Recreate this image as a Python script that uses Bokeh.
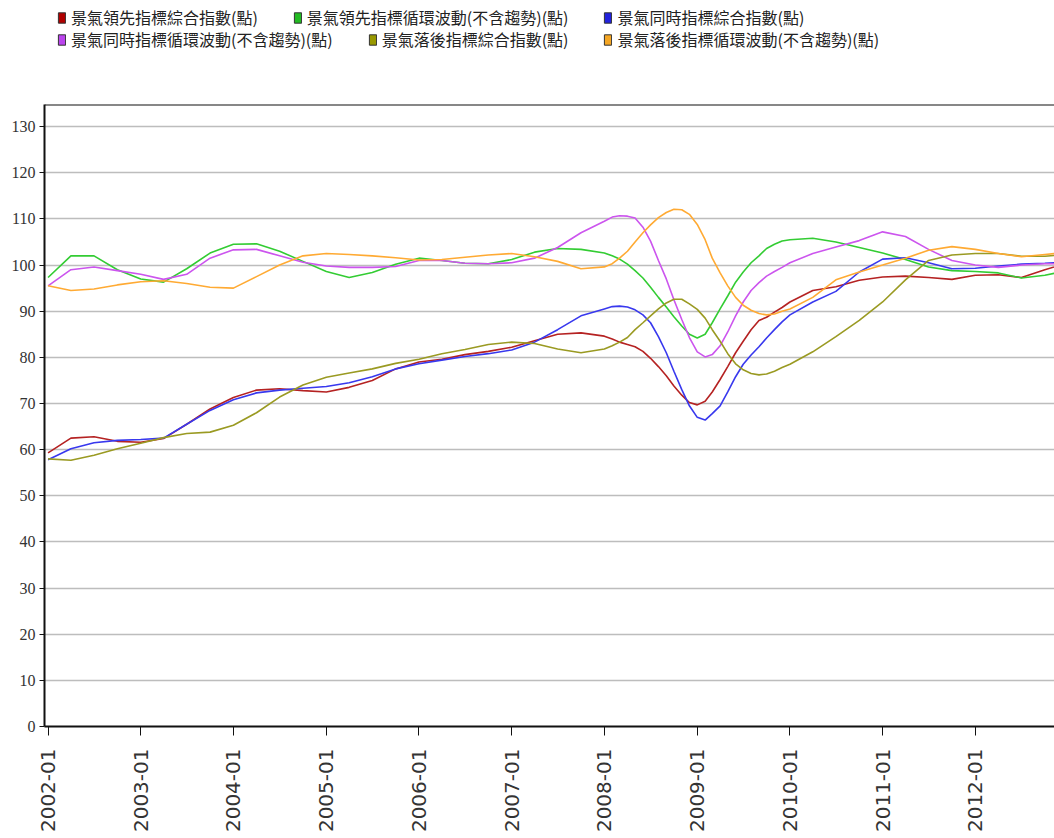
import math
import pandas as pd
from bokeh.plotting import figure
from bokeh.layouts import column
from bokeh.models import (Range1d, FixedTicker, DatetimeTickFormatter, Legend, LegendItem,
                          SingleIntervalTicker, Span)
from bokeh.embed import file_html
from bokeh.resources import INLINE

# x positions: quarterly 2002-2007, monthly 2008-2009, quarterly 2010-2012
dates = ([f"{y}-{m:02d}-01" for y in range(2002, 2008) for m in (1, 4, 7, 10)]
         + [f"{y}-{m:02d}-01" for y in (2008, 2009) for m in range(1, 13)]
         + [f"{y}-{m:02d}-01" for y in range(2010, 2013) for m in (1, 4, 7, 10)]
         + ["2012-12-01"])

lead_ci = [59.3, 62.5, 62.8, 61.8, 61.6, 62.4, 65.5, 68.8, 71.3, 72.9, 73.2, 72.8,
           72.5, 73.5, 75.0, 77.5, 79.0, 79.6, 80.6, 81.3, 82.2, 83.6, 85.0, 85.3,
           84.6, 84.0, 83.3, 82.8, 82.3, 81.3, 79.8, 78.0, 76.0, 73.8, 71.8, 70.2,
           69.7, 70.5, 72.5, 75.2, 78.0, 81.0, 83.5, 86.0, 88.0, 88.7, 89.8, 90.8,
           92.0, 94.5, 95.3, 96.7, 97.4, 97.6, 97.3, 96.9, 97.8, 97.9, 97.3, 99.0, 100.0]
lead_cyc = [97.3, 102.0, 102.0, 99.0, 97.0, 96.3, 99.2, 102.6, 104.5, 104.6, 103.0, 100.8,
            98.6, 97.3, 98.4, 100.2, 101.5, 101.0, 100.4, 100.3, 101.2, 102.8, 103.6, 103.4,
            102.6, 102.0, 101.3, 100.2, 98.8, 97.2, 95.2, 93.0, 90.9, 88.8, 86.8, 85.0,
            84.2, 85.0, 87.5, 90.5, 93.3, 96.3, 98.5, 100.5, 102.0, 103.6, 104.5, 105.2,
            105.5, 105.8, 105.0, 103.8, 102.6, 101.2, 99.6, 98.8, 98.6, 98.3, 97.2, 97.8, 98.5]
coin_ci = [57.8, 60.2, 61.5, 62.0, 62.2, 62.5, 65.5, 68.5, 70.8, 72.3, 72.9, 73.3,
           73.7, 74.5, 75.8, 77.5, 78.6, 79.4, 80.2, 80.8, 81.6, 83.3, 86.0, 89.0,
           90.5, 91.0, 91.1, 90.9, 90.3, 89.2, 87.5, 84.5, 81.0, 77.0, 73.0, 69.5,
           67.0, 66.4, 67.8, 69.5, 72.5, 75.8, 78.5, 80.5, 82.3, 84.2, 86.0, 87.7,
           89.2, 92.0, 94.3, 98.5, 101.3, 101.6, 100.5, 99.2, 99.3, 99.8, 100.2, 100.4, 100.6]
coin_cyc = [95.5, 99.0, 99.6, 98.8, 98.0, 96.9, 98.0, 101.5, 103.3, 103.4, 102.0, 100.6,
            99.8, 99.5, 99.5, 99.7, 101.0, 101.0, 100.4, 100.3, 100.5, 101.5, 103.8, 107.0,
            109.5, 110.4, 110.7, 110.6, 110.2, 108.2, 105.2, 101.0, 97.0, 92.5, 88.2, 84.3,
            81.2, 80.1, 80.6, 82.5, 85.5, 89.0, 92.0, 94.5, 96.2, 97.6, 98.6, 99.5,
            100.5, 102.5, 103.9, 105.3, 107.2, 106.2, 103.4, 101.0, 100.0, 99.5, 100.0, 100.3, 100.3]
lag_ci = [58.0, 57.7, 58.8, 60.2, 61.4, 62.6, 63.5, 63.8, 65.3, 68.0, 71.4, 74.0,
          75.7, 76.6, 77.5, 78.7, 79.6, 80.8, 81.7, 82.8, 83.3, 83.0, 81.8, 81.0,
          81.8, 82.5, 83.3, 84.3, 86.0, 87.5, 89.0, 90.5, 91.8, 92.6, 92.6, 91.6,
          90.4, 88.5, 86.0, 83.5, 80.8, 78.6, 77.3, 76.5, 76.2, 76.4, 77.0, 77.8,
          78.5, 81.2, 84.5, 88.0, 92.0, 96.8, 101.0, 102.2, 102.5, 102.5, 101.9, 101.9, 102.2]
lag_cyc = [95.5, 94.5, 94.8, 95.7, 96.4, 96.6, 96.0, 95.2, 95.0, 97.5, 100.0, 102.0,
           102.5, 102.3, 102.0, 101.6, 101.1, 101.2, 101.7, 102.2, 102.5, 101.8, 100.8, 99.2,
           99.6, 100.3, 101.5, 103.0, 105.0, 107.0, 108.7, 110.3, 111.4, 112.1, 112.0, 111.0,
           108.8, 105.5, 101.5, 98.3, 95.5, 93.0, 91.3, 90.2, 89.5, 89.2, 89.4, 90.0,
           90.5, 93.0, 96.8, 98.5, 100.0, 101.5, 103.2, 104.0, 103.4, 102.5, 101.8, 102.3, 102.6]

labels = ["景氣領先指標綜合指數(點)", "景氣領先指標循環波動(不含趨勢)(點)", "景氣同時指標綜合指數(點)",
          "景氣同時指標循環波動(不含趨勢)(點)", "景氣落後指標綜合指數(點)", "景氣落後指標循環波動(不含趨勢)(點)"]
series = [lead_ci, lead_cyc, coin_ci, coin_cyc, lag_ci, lag_cyc]
colors = ["#b52222", "#33cc33", "#3838ee", "#cc55ee", "#9a9a22", "#ffaa33"]
legend_fill = ["#b00000", "#22bb22", "#2222dd", "#bb44ee", "#999900", "#f5a623"]

x = pd.to_datetime(dates)
Y_TOP = 134.8
W, H = 1054, 838

# ---------- legend strip ----------
LH = 102
lf = figure(width=W, height=LH, output_backend="svg", toolbar_location=None,
            min_border=0, x_range=Range1d(0, 1), y_range=Range1d(0, 1),
            x_axis_location=None, y_axis_location=None)
lf.grid.grid_line_color = None
lf.outline_line_color = None

# swatch renderers (kept outside the visible range; only their legend glyphs show)
swatches = []
for fc in legend_fill:
    r = lf.quad(left=[-3], right=[-2], top=[-2], bottom=[-3], fill_color=fc,
                line_color="#333333", line_width=1)
    swatches.append(r)

def make_legend(idx, top_px):
    return Legend(items=[LegendItem(label=labels[i], renderers=[swatches[i]]) for i in idx],
                  orientation="horizontal", location=(13, LH - top_px - 20),
                  border_line_color=None, background_fill_alpha=0,
                  padding=0, margin=0, spacing=35,
                  glyph_width=9, glyph_height=13, label_standoff=5, label_height=20,
                  label_text_font="Noto Sans CJK TC", label_text_font_size="16px",
                  label_text_color="#222222")

lf.add_layout(make_legend([0, 1, 2], 9))
lf.add_layout(make_legend([3, 4, 5], 31))

# ---------- main chart ----------
p = figure(width=W, height=H - LH, x_axis_type="datetime", output_backend="svg",
           toolbar_location=None,
           x_range=Range1d(pd.Timestamp("2001-12-18"), pd.Timestamp("2012-11-08")),
           y_range=Range1d(0, Y_TOP),
           min_border_left=44, min_border_right=0, min_border_top=2, min_border_bottom=112)

for vals, c in zip(series, colors):
    p.line(x, vals, line_color=c, line_width=1.6)

p.add_layout(Span(location=Y_TOP, dimension="width", line_color="#111111", line_width=2))

p.xaxis.ticker = FixedTicker(ticks=[pd.Timestamp(f"{y}-01-01").value // 10**6 for y in range(2002, 2013)])
p.xaxis.formatter = DatetimeTickFormatter(years="%Y-%m", months="%Y-%m", days="%Y-%m")
p.xaxis.major_label_orientation = math.pi / 2
p.xaxis.major_label_text_font = "DejaVu Sans"
p.xaxis.major_label_text_font_size = "20px"
p.xaxis.major_label_text_color = "#333333"
p.xaxis.major_label_standoff = 13
p.xaxis.major_tick_out = 9
p.xaxis.major_tick_in = 0
p.xaxis.minor_tick_line_color = None
p.xaxis.axis_line_width = 2
p.xaxis.axis_line_color = "#111111"
p.xaxis.major_tick_line_color = "#111111"

p.yaxis.ticker = SingleIntervalTicker(interval=10)
p.yaxis.major_label_text_font = "Liberation Sans Narrow"
p.yaxis.major_label_text_font_size = "16px"
p.yaxis.major_label_text_color = "#333333"
p.yaxis.major_label_standoff = 4
p.yaxis.major_tick_out = 5
p.yaxis.major_tick_in = 0
p.yaxis.minor_tick_line_color = None
p.yaxis.axis_line_width = 2
p.yaxis.axis_line_color = "#111111"
p.yaxis.major_tick_line_color = "#111111"

p.xgrid.grid_line_color = None
p.ygrid.grid_line_color = "#bdbdbd"
p.ygrid.grid_line_width = 1.5
p.outline_line_color = None
p.background_fill_color = "white"

layout = column(lf, p, spacing=0)
open("out.html", "w").write(file_html(layout, INLINE))
